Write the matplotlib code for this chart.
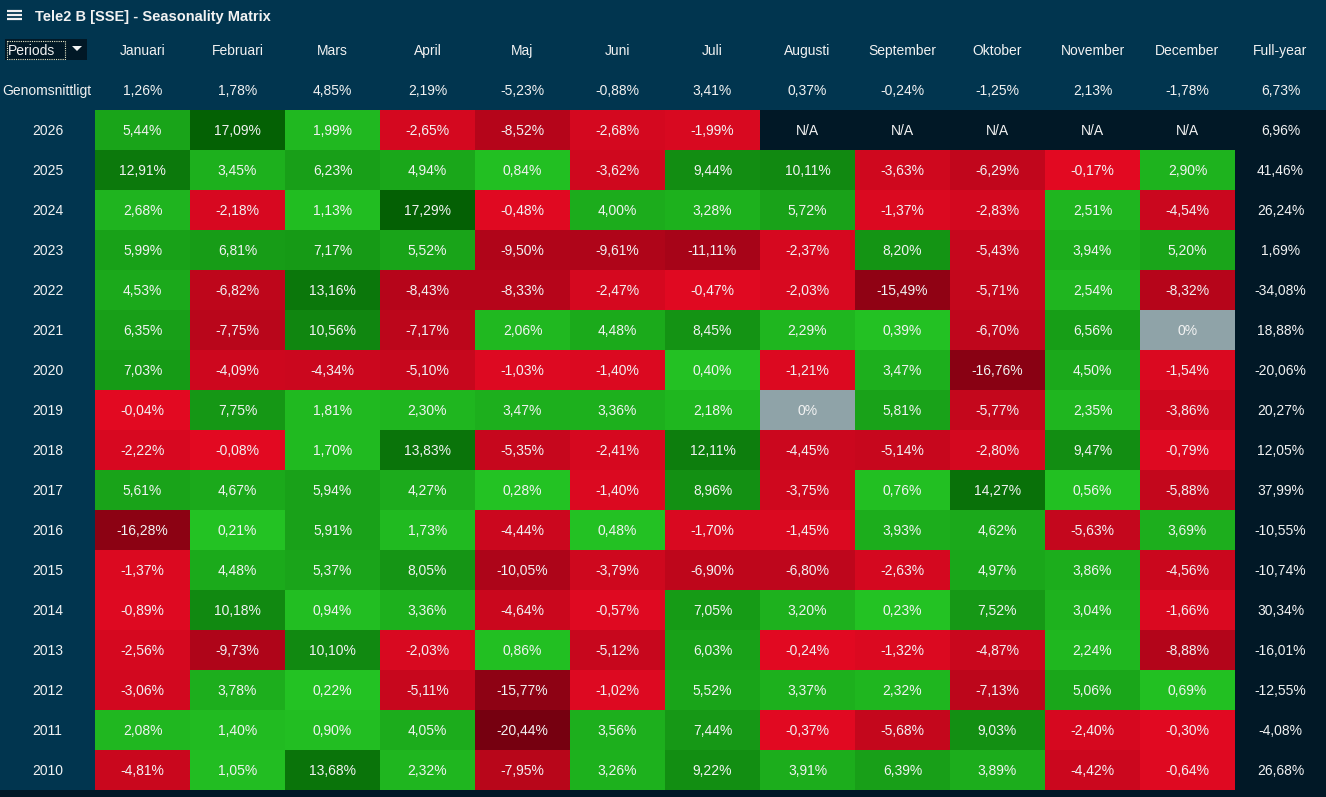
import numpy as np
import matplotlib
matplotlib.use("Agg")
import matplotlib.pyplot as plt
from matplotlib.patches import Rectangle, Polygon
from matplotlib.colors import to_rgb

# ---------------- data ----------------
title = "Tele2 B [SSE] - Seasonality Matrix"
months = ["Januari", "Februari", "Mars", "April", "Maj", "Juni", "Juli",
          "Augusti", "September", "Oktober", "November", "December"]
fy_label = "Full-year"
avg_label = "Genomsnittligt"
years = [2026, 2025, 2024, 2023, 2022, 2021, 2020, 2019, 2018, 2017,
         2016, 2015, 2014, 2013, 2012, 2011, 2010]
nan = np.nan
r2026 = [5.44, 17.09, 1.99, -2.65, -8.52, -2.68, -1.99, nan, nan, nan, nan, nan]
r2025 = [12.91, 3.45, 6.23, 4.94, 0.84, -3.62, 9.44, 10.11, -3.63, -6.29, -0.17, 2.90]
r2024 = [2.68, -2.18, 1.13, 17.29, -0.48, 4.00, 3.28, 5.72, -1.37, -2.83, 2.51, -4.54]
r2023 = [5.99, 6.81, 7.17, 5.52, -9.50, -9.61, -11.11, -2.37, 8.20, -5.43, 3.94, 5.20]
r2022 = [4.53, -6.82, 13.16, -8.43, -8.33, -2.47, -0.47, -2.03, -15.49, -5.71, 2.54, -8.32]
r2021 = [6.35, -7.75, 10.56, -7.17, 2.06, 4.48, 8.45, 2.29, 0.39, -6.70, 6.56, 0.0]
r2020 = [7.03, -4.09, -4.34, -5.10, -1.03, -1.40, 0.40, -1.21, 3.47, -16.76, 4.50, -1.54]
r2019 = [-0.04, 7.75, 1.81, 2.30, 3.47, 3.36, 2.18, 0.0, 5.81, -5.77, 2.35, -3.86]
r2018 = [-2.22, -0.08, 1.70, 13.83, -5.35, -2.41, 12.11, -4.45, -5.14, -2.80, 9.47, -0.79]
r2017 = [5.61, 4.67, 5.94, 4.27, 0.28, -1.40, 8.96, -3.75, 0.76, 14.27, 0.56, -5.88]
r2016 = [-16.28, 0.21, 5.91, 1.73, -4.44, 0.48, -1.70, -1.45, 3.93, 4.62, -5.63, 3.69]
r2015 = [-1.37, 4.48, 5.37, 8.05, -10.05, -3.79, -6.90, -6.80, -2.63, 4.97, 3.86, -4.56]
r2014 = [-0.89, 10.18, 0.94, 3.36, -4.64, -0.57, 7.05, 3.20, 0.23, 7.52, 3.04, -1.66]
r2013 = [-2.56, -9.73, 10.10, -2.03, 0.86, -5.12, 6.03, -0.24, -1.32, -4.87, 2.24, -8.88]
r2012 = [-3.06, 3.78, 0.22, -5.11, -15.77, -1.02, 5.52, 3.37, 2.32, -7.13, 5.06, 0.69]
r2011 = [2.08, 1.40, 0.90, 4.05, -20.44, 3.56, 7.44, -0.37, -5.68, 9.03, -2.40, -0.30]
r2010 = [-4.81, 1.05, 13.68, 2.32, -7.95, 3.26, 9.22, 3.91, 6.39, 3.89, -4.42, -0.64]
full_year = [6.96, 41.46, 26.24, 1.69, -34.08, 18.88, -20.06, 20.27, 12.05, 37.99,
             -10.55, -10.74, 30.34, -16.01, -12.55, -4.08, 26.68]
averages = [1.26, 1.78, 4.85, 2.19, -5.23, -0.88, 3.41, 0.37, -0.24, -1.25, 2.13, -1.78]
avg_full_year = 6.73

matrix = np.array([r2026, r2025, r2024, r2023, r2022, r2021, r2020, r2019, r2018,
                   r2017, r2016, r2015, r2014, r2013, r2012, r2011, r2010])

# ---------------- style ----------------
W, H = 1326, 797
NAVY = "#01354f"
DARK = "#011826"
GREY = "#8fa3a8"
TXT = "#f2f2f2"
POS0, POS1 = np.array(to_rgb("#24c424")), np.array(to_rgb("#046004"))
NEG0, NEG1 = np.array(to_rgb("#e30a22")), np.array(to_rgb("#760010"))
FONT = "Liberation Sans"
FS = 10

def cell_color(v):
    if np.isnan(v):
        return np.array(to_rgb(DARK))
    if v == 0:
        return np.array(to_rgb(GREY))
    if v > 0:
        t = min(v / 17.3, 1.0)
        return POS0 + (POS1 - POS0) * t
    t = min(-v / 20.44, 1.0)
    return NEG0 + (NEG1 - NEG0) * t

def fmt(v):
    if np.isnan(v):
        return "N/A"
    if v == 0:
        return "0%"
    return f"{v:.2f}".replace(".", ",") + "%"

# layout (pixels)
LEFT_W, CELL_W, CELL_H, TOP = 95, 95, 40, 110
HEAD_Y, AVG_Y = 50, 90
DY = 1  # small text offset
n_rows, n_cols = matrix.shape
grid_right = LEFT_W + n_cols * CELL_W
grid_bottom = TOP + n_rows * CELL_H

fig = plt.figure(figsize=(W / 100, H / 100), dpi=100)
fig.patch.set_facecolor(NAVY)
ax = fig.add_axes([0, 0, 1, 1])
ax.set_xlim(0, W)
ax.set_ylim(H, 0)
ax.axis("off")
ax.set_facecolor(NAVY)

# bottom dark strip and full-year column
ax.add_patch(Rectangle((0, grid_bottom), W, H - grid_bottom, color=DARK, lw=0))
ax.add_patch(Rectangle((grid_right, TOP), W - grid_right, H - TOP, color=DARK, lw=0))

# matrix cells
rgb = np.zeros((n_rows, n_cols, 3))
for i in range(n_rows):
    for j in range(n_cols):
        rgb[i, j] = cell_color(matrix[i, j])
ax.imshow(rgb, extent=(LEFT_W, grid_right, grid_bottom, TOP), aspect="auto",
          interpolation="nearest", zorder=1)

tkw = dict(color=TXT, fontsize=FS, family=FONT, ha="center", va="center", zorder=5)

for i, yr in enumerate(years):
    yc = TOP + (i + 0.5) * CELL_H + DY
    ax.text(LEFT_W / 2, yc, str(yr), **tkw)
    for j in range(n_cols):
        ax.text(LEFT_W + (j + 0.5) * CELL_W, yc, fmt(matrix[i, j]), **tkw)
    ax.text((grid_right + W) / 2, yc, fmt(full_year[i]), **tkw)

for j, m in enumerate(months):
    xc = LEFT_W + (j + 0.5) * CELL_W
    ax.text(xc, HEAD_Y + DY, m, **tkw)
    ax.text(xc, AVG_Y + DY, fmt(averages[j]), **tkw)
ax.text((grid_right + W) / 2, HEAD_Y + DY, fy_label, **tkw)
ax.text((grid_right + W) / 2, AVG_Y + DY, fmt(avg_full_year), **tkw)
ax.text(2, AVG_Y + DY, avg_label, **{**tkw, "ha": "left"})

# title bar
for yy in (11, 15, 19):
    ax.plot([7, 22], [yy, yy], color=TXT, lw=1.6, solid_capstyle="butt", zorder=5)
ax.text(35, 16 + DY, title, color=TXT, fontsize=10.5, family=FONT, fontweight="bold",
        ha="left", va="center", zorder=5)

# periods dropdown
ax.add_patch(Rectangle((5, 39), 82, 21, color=DARK, lw=0, zorder=3))
ax.add_patch(Rectangle((6.5, 40.5), 58, 18, fill=False, ec="#e8e8c8", lw=0.8,
                       ls=(0, (1, 1)), zorder=4))
ax.text(8, 49.5 + DY, "Periods", **{**tkw, "ha": "left"})
ax.add_patch(Polygon([[72, 46], [82, 46], [77, 51]], closed=True, color=TXT, lw=0, zorder=5))

fig.savefig("out.png", dpi=100, facecolor=NAVY)
